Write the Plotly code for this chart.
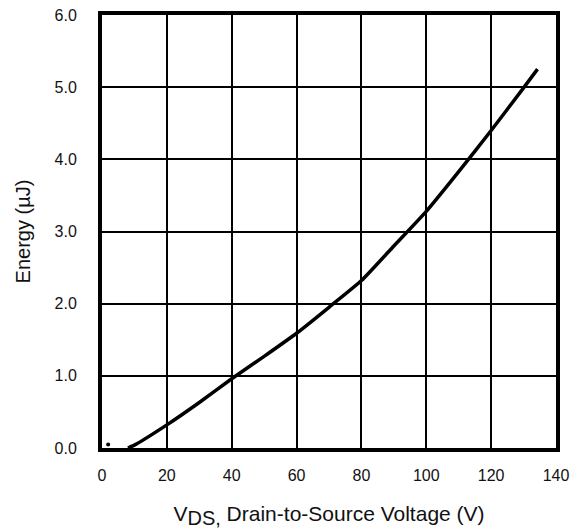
import plotly.graph_objects as go

# energy curve
vds = [8, 10, 20, 30, 40, 50, 60, 70, 80, 90, 100, 110, 120, 130, 134.3]
energy = [0.0, 0.04, 0.32, 0.63, 0.96, 1.27, 1.59, 1.95, 2.32, 2.8, 3.28, 3.83, 4.4, 4.99, 5.25]

# small stray dot near origin
dot_x = [1.9]
dot_y = [0.05]

x_ticks = [0, 20, 40, 60, 80, 100, 120, 140]
y_ticks = [0, 1, 2, 3, 4, 5, 6]

font = "Liberation Sans, Arial, sans-serif"
ink = "#111111"

fig = go.Figure()
fig.add_trace(go.Scatter(
    x=vds, y=energy, mode="lines",
    line=dict(color="black", width=3.5, shape="spline", smoothing=0.5),
    showlegend=False,
))
fig.add_trace(go.Scatter(
    x=dot_x, y=dot_y, mode="markers",
    marker=dict(color="black", size=4),
    showlegend=False,
))

axis_common = dict(
    showgrid=True, gridcolor="black", gridwidth=2,
    showline=True, linecolor="black", linewidth=4, mirror=True,
    zeroline=False, ticks="", automargin=False, ticklabeloverflow="allow",
    tickfont=dict(family=font, size=16, color=ink),
)

fig.update_xaxes(
    range=[0, 140], tickvals=x_ticks, ticklabelstandoff=10,
    title=dict(text="V<sub><span style='font-size:20px'>DS,</span></sub> Drain-to-Source Voltage (V)",
               font=dict(family=font, size=21, color=ink), standoff=24),
    **axis_common,
)
fig.update_yaxes(
    range=[0, 6], tickvals=y_ticks, tickformat=".1f", ticklabelstandoff=18,
    title=dict(text="Energy (µJ)",
               font=dict(family=font, size=20, color=ink), standoff=20),
    **axis_common,
)

# page body adds 8px margin, so the figure is sized to fit the window
fig.update_layout(
    width=579, height=523,
    margin=dict(l=94, r=31, t=7, b=83),
    plot_bgcolor="white", paper_bgcolor="white",
    font=dict(family=font, color=ink),
)

fig.write_html("out.html")
